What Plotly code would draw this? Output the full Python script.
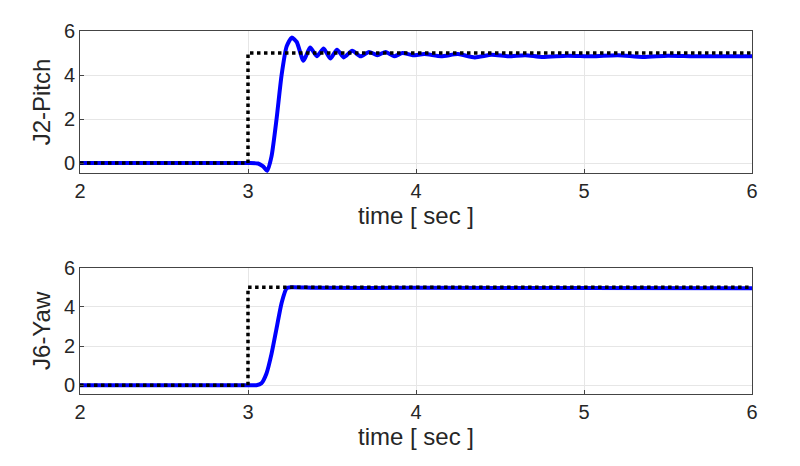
import plotly.graph_objects as go
from plotly.subplots import make_subplots

# reference step
ref_t = [2, 3, 3, 6]
ref_y = [0, 0, 5, 5]

# J2-Pitch response
pitch_t = [2, 2.5, 3.0, 3.06, 3.09, 3.115, 3.14, 3.17, 3.2, 3.23, 3.26, 3.29, 3.33, 3.37, 3.41, 3.45, 3.49,
           3.53, 3.57, 3.62, 3.67, 3.72, 3.77, 3.82, 3.87, 3.92, 3.98, 4.05, 4.15, 4.25, 4.35, 4.45,
           4.55, 4.65, 4.75, 4.9, 5.05, 5.2, 5.35, 5.5, 5.65, 5.8, 6]
pitch_y = [0, 0, 0, -0.02, -0.15, -0.35, 0.3, 2.0, 4.0, 5.3, 5.7, 5.5, 4.65, 5.25, 4.85, 5.2, 4.75,
           5.15, 4.8, 5.1, 4.85, 5.05, 4.9, 5.05, 4.85, 5.0, 4.9, 4.95, 4.85, 4.95, 4.8, 4.92,
           4.85, 4.9, 4.82, 4.88, 4.85, 4.9, 4.82, 4.88, 4.85, 4.85, 4.85]

# J6-Yaw response
yaw_t = [2, 2.5, 3.0, 3.05, 3.08, 3.11, 3.14, 3.17, 3.2, 3.23, 3.26, 3.4, 4, 5, 6]
yaw_y = [0, 0, 0, 0, 0.1, 0.6, 1.6, 2.9, 4.2, 4.95, 5.0, 4.97, 4.97, 4.96, 4.95]

ticks_x = [2, 3, 4, 5, 6]
ticks_y = [0, 2, 4, 6]

fig = make_subplots(rows=2, cols=1)
for row, (t, y, name) in enumerate([(pitch_t, pitch_y, "J2-Pitch"), (yaw_t, yaw_y, "J6-Yaw")], start=1):
    fig.add_trace(go.Scatter(x=t, y=y, mode="lines", line=dict(color="#0000ff", width=4, shape="spline", smoothing=0.6),
                             showlegend=False), row=row, col=1)
    fig.add_trace(go.Scatter(x=ref_t, y=ref_y, mode="lines", line=dict(color="black", width=3.5, dash="dot"),
                             showlegend=False), row=row, col=1)
    fig.update_xaxes(range=[2, 6], tickvals=ticks_x, title_text="time [ sec ]", title_standoff=2,
                     showgrid=True, gridcolor="#e6e6e6", showline=True, linecolor="#444", mirror=True,
                     ticks="inside", ticklen=4, zeroline=False, row=row, col=1)
    fig.update_yaxes(range=[-0.45, 6], tickvals=ticks_y, title_text=name, title_standoff=6,
                     showgrid=True, gridcolor="#e6e6e6", showline=True, linecolor="#444", mirror=True,
                     ticks="inside", ticklen=4, zeroline=False, row=row, col=1)

fig.update_layout(width=800, height=466, plot_bgcolor="white", paper_bgcolor="white",
                  margin=dict(l=72, r=56, t=18, b=80),
                  yaxis=dict(domain=[0.609, 1]), yaxis2=dict(domain=[0, 0.348]),
                  font=dict(family="Liberation Sans, Arial", size=20, color="#262626"))
fig.write_html("out.html")
